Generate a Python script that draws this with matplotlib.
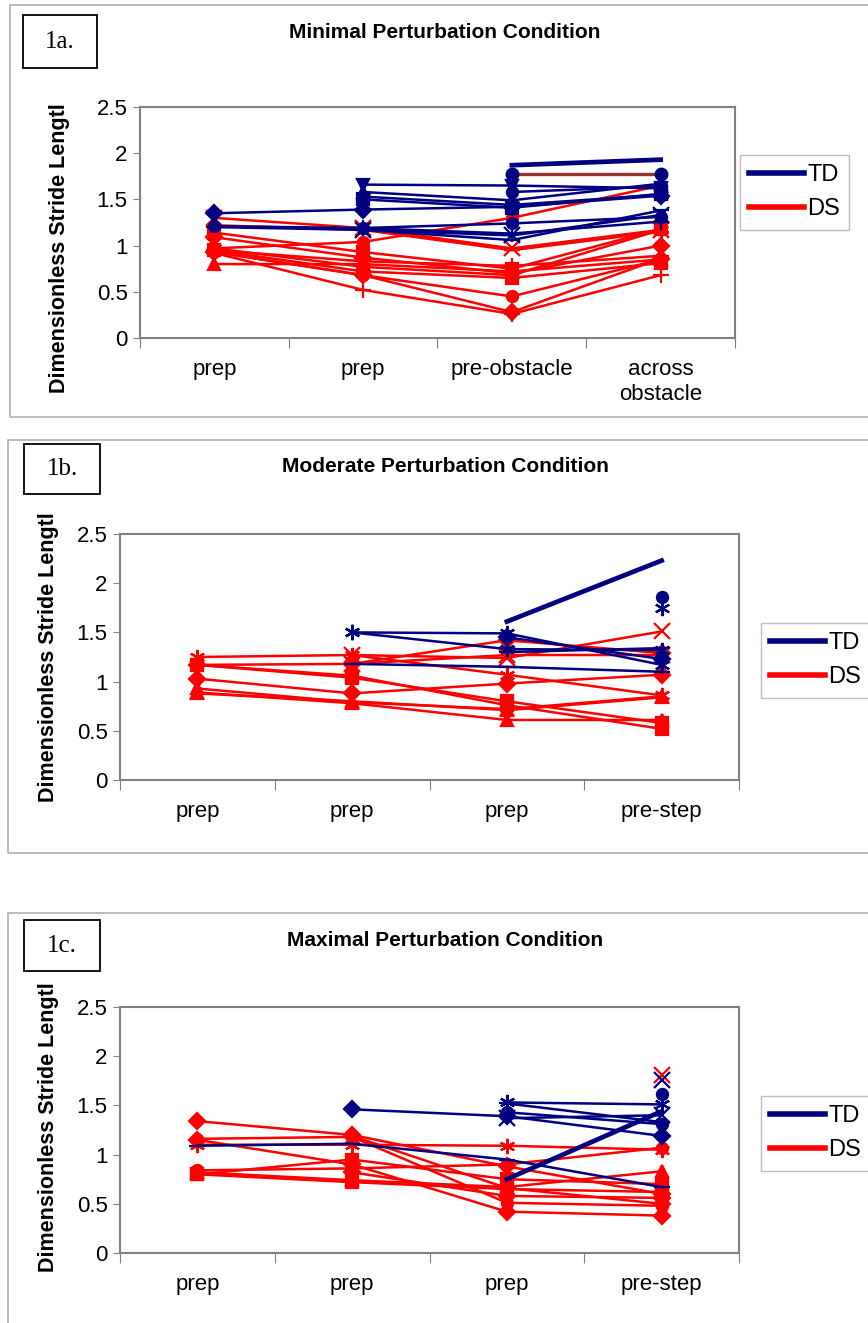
import numpy as np
import matplotlib
matplotlib.use("Agg")
from matplotlib import pyplot as plt
from matplotlib.patches import Rectangle
from matplotlib.lines import Line2D

plt.rcParams['font.family'] = ['Liberation Sans', 'DejaVu Sans']

nan = np.nan
NAVY = '#000080'
RED = '#FF0000'
BROWN = '#993333'
AST = (6, 2, 0)

# x categories of each panel
cats_a = ["prep", "prep", "pre-obstacle", "across\nobstacle"]
cats_b = ["prep", "prep", "prep", "pre-step"]
cats_c = ["prep", "prep", "prep", "pre-step"]

# 1a. Minimal perturbation - TD
td_a = [
    [1.35, 1.39, 1.42, 1.54],
    [1.21, 1.19, 1.24, 1.31],
    [1.20, 1.17, 1.06, 1.38],
    [nan, 1.19, 1.13, 1.26],
    [nan, 1.66, 1.65, 1.62],
    [nan, 1.58, 1.49, 1.67],
    [nan, 1.53, 1.44, 1.55],
    [nan, 1.50, 1.41, 1.56],
    [nan, 1.17, 1.11, 1.33],
    [nan, nan, 1.58, 1.64],
]
td_a_thick = [nan, nan, 1.87, 1.93]
td_a_brown = [nan, nan, 1.77, 1.77]
# 1a. Minimal perturbation - DS
ds_a = [
    [1.30, 1.19, 0.97, 1.17],
    [1.22, 1.17, 0.95, 1.15],
    [1.14, 0.93, 0.75, 1.18],
    [1.09, 0.87, 0.70, 1.00],
    [0.97, 1.04, 1.30, 1.65],
    [0.95, 0.83, 0.78, 0.89],
    [0.93, 0.68, 0.45, 0.85],
    [0.92, 0.52, 0.26, 0.68],
    [0.80, 0.80, 0.72, 0.85],
    [0.95, 0.72, 0.65, 0.81],
    [0.93, 0.68, 0.28, 0.86],
    [0.97, 0.77, 0.68, 1.17],
]

# 1b. Moderate perturbation - TD
td_b = [
    [nan, 1.50, 1.49, 1.17],
    [nan, 1.50, 1.33, 1.32],
    [nan, 1.18, 1.15, 1.10],
    [nan, nan, 1.30, 1.34],
    [nan, nan, 1.45, 1.23],
    [nan, nan, nan, 1.86],
    [nan, nan, nan, 1.75],
]
td_b_thick = [nan, nan, 1.61, 2.23]
# 1b. Moderate perturbation - DS
ds_b = [
    [1.25, 1.27, 1.07, 0.86],
    [1.17, 1.04, 0.80, 0.58],
    [1.03, 0.88, 0.98, 1.07],
    [0.93, 0.79, 0.72, 0.85],
    [0.89, 0.78, 0.61, 0.61],
    [0.88, 0.80, 0.71, 0.84],
    [1.17, 1.18, 1.42, 1.29],
    [nan, 1.27, 1.24, 1.51],
    [1.17, 1.06, 0.76, 0.52],
    [nan, 1.18, 1.27, 1.27],
]

# 1c. Maximal perturbation - TD
td_c = [
    [1.09, 1.11, 0.95, 0.67],
    [nan, 1.46, 1.39, 1.19],
    [nan, nan, 1.53, 1.51],
    [nan, nan, 1.52, 1.33],
    [nan, nan, 1.43, 1.31],
    [nan, nan, 1.37, 1.40],
    [nan, nan, nan, 1.62],
    [nan, nan, nan, 1.76],
]
td_c_thick = [nan, nan, 0.75, 1.44]
# 1c. Maximal perturbation - DS
ds_c = [
    [1.34, 1.20, 0.88, 0.60],
    [1.16, 1.18, 0.51, 0.48],
    [1.15, 0.90, 0.42, 0.38],
    [1.10, 1.10, 1.09, 1.05],
    [0.84, 0.86, 0.90, 1.07],
    [0.82, 0.74, 0.67, 0.83],
    [0.80, 0.72, 0.65, 0.62],
    [0.80, 0.95, 0.75, 0.70],
    [nan, 0.82, 0.58, 0.56],
    [nan, 1.19, 0.66, 0.50],
    [nan, nan, nan, 1.81],
]

# marker styles per series
mk_td_a = ['D', 'o', '_', '+', 'v', '^', AST, 's', 'x', 'o']
mk_ds_a = ['x', '_', 's', 'D', 'o', '+', 'o', '+', '^', 's', 'D', AST]
mk_td_b = [AST, AST, '_', '_', 'D', 'o', AST]
mk_ds_b = [AST, 's', 'D', '^', '^', '^', 'D', 'x', 's', 'x']
mk_td_c = ['_', 'D', AST, '_', 'o', 'x', 'o', 'x']
mk_ds_c = ['D', 'o', 'D', AST, 'o', '^', 's', 's', 'D', 'D', 'x']

W, H = 868, 1323
fig = plt.figure(figsize=(W / 100, H / 100), dpi=100)


def frac(l, t, r, b):
    return [l / W, 1 - b / H, (r - l) / W, (b - t) / H]


def msize(m):
    return 11 if m in (AST, 'x', '+', '_') else 8


def panel(box, frame, lab, lab_box, title, title_y, cats, td, ds, mk_td, mk_ds,
          extra, leg_xy, ylab_xy):
    # outer grey frame
    fig.patches.append(Rectangle((frame[0] / W, 1 - frame[3] / H), (frame[2] - frame[0]) / W,
                                 (frame[3] - frame[1]) / H, transform=fig.transFigure,
                                 fill=False, ec='#b0b0b0', lw=1.2))
    # panel label box
    fig.patches.append(Rectangle((lab_box[0] / W, 1 - lab_box[3] / H), (lab_box[2] - lab_box[0]) / W,
                                 (lab_box[3] - lab_box[1]) / H, transform=fig.transFigure,
                                 fill=False, ec='black', lw=1.3))
    fig.text((lab_box[0] + lab_box[2]) / 2 / W, 1 - (lab_box[1] + lab_box[3]) / 2 / H, lab,
             family='Liberation Serif', fontsize=18, ha='center', va='center')
    fig.text(445 / W, 1 - title_y / H, title, fontsize=15, fontweight='bold',
             ha='center', va='center')

    ax = fig.add_axes(frac(*box))
    x = np.arange(1, 5)
    for s, m in zip(ds, mk_ds):
        ax.plot(x, s, color=RED, lw=1.8, marker=m, ms=msize(m), mew=1.6)
    for s, m in zip(td, mk_td):
        ax.plot(x, s, color=NAVY, lw=1.8, marker=m, ms=msize(m), mew=1.6)
    for s, c in extra:
        if c == BROWN:
            ax.plot(x, s, color=BROWN, lw=2.4, marker='o', ms=9, mfc=NAVY, mec=NAVY)
        else:
            ax.plot(x, s, color=c, lw=3.4)

    ax.set_xlim(0.5, 4.5)
    ax.set_ylim(0, 2.5)
    ax.set_yticks([0, 0.5, 1, 1.5, 2, 2.5])
    ax.set_yticklabels(['0', '0.5', '1', '1.5', '2', '2.5'])
    ax.set_xticks([0.5, 1.5, 2.5, 3.5, 4.5])
    ax.set_xticklabels([])
    ax.set_xticks(x, minor=True)
    ax.set_xticklabels(cats, minor=True, linespacing=1.25)
    ax.tick_params(axis='x', which='major', length=7, color='#808080', direction='out')
    ax.tick_params(axis='x', which='minor', length=0, pad=15, labelsize=16)
    ax.tick_params(axis='y', length=5, color='#808080', labelsize=16, pad=4)
    for sp in ax.spines.values():
        sp.set_color('#808080')
        sp.set_linewidth(1.5)
    fig.text(ylab_xy[0] / W, 1 - ylab_xy[1] / H, "Dimensionless Stride Lengtl",
             rotation=90, ha='center', va='center', fontsize=15.5, fontweight='bold')

    handles = [Line2D([], [], color=NAVY, lw=4), Line2D([], [], color=RED, lw=4)]
    ax.legend(handles, ['TD', 'DS'], loc='upper left',
              bbox_to_anchor=(leg_xy[0] / W, 1 - leg_xy[1] / H), bbox_transform=fig.transFigure,
              fontsize=17, frameon=True, fancybox=False, edgecolor='#b0b0b0',
              handlelength=2.3, handletextpad=0.15, labelspacing=0.5, borderpad=0.4,
              borderaxespad=0)
    return ax


panel((140, 107, 735, 338), (10, 5, 880, 417), "1a.", (23, 15, 97, 68),
      "Minimal Perturbation Condition", 32, cats_a, td_a, ds_a, mk_td_a, mk_ds_a,
      [(td_a_thick, NAVY), (td_a_brown, BROWN)], (740, 155), (60, 248))
panel((120, 534, 739, 780), (8, 440, 880, 853), "1b.", (24, 444, 100, 494),
      "Moderate Perturbation Condition", 467, cats_b, td_b, ds_b, mk_td_b, mk_ds_b,
      [(td_b_thick, NAVY)], (761, 623), (49, 657))
panel((120, 1007, 739, 1253), (8, 913, 880, 1340), "1c.", (24, 920, 100, 971),
      "Maximal Perturbation Condition", 941, cats_c, td_c, ds_c, mk_td_c, mk_ds_c,
      [(td_c_thick, NAVY)], (761, 1096), (49, 1127))

fig.savefig("out.png", dpi=100)
